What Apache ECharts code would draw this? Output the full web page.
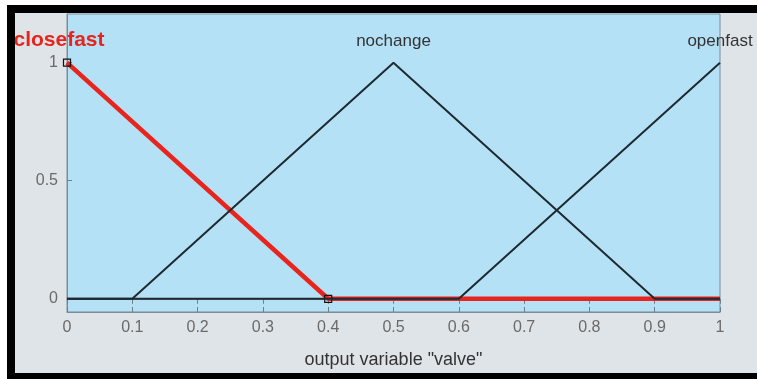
<!DOCTYPE html>
<html><head><meta charset="utf-8">
<script src="https://cdn.jsdelivr.net/npm/echarts@6/dist/echarts.min.js"></script>
<style>html,body{margin:0;padding:0;background:#fff}#c{width:757px;height:379px}</style>
</head><body><div id="c"></div>
<script>
const xTicks = [0,0.1,0.2,0.3,0.4,0.5,0.6,0.7,0.8,0.9,1];
const yTicks = [0,0.5,1];
const closefastX = [0, 0.4, 1];
const closefastY = [1, 0, 0];
const nochangeX = [0, 0.1, 0.5, 0.9, 1];
const nochangeY = [0, 0, 1, 0, 0];
const openfastX = [0, 0.6, 1];
const openfastY = [0, 0, 1];
const names = ['closefast', 'nochange', 'openfast'];
const axisTitle = 'output variable "valve"';

const chart = echarts.init(document.getElementById('c'), null, {renderer:'canvas'});
const font = 'Liberation Sans, Arial, sans-serif';
function pts(xs, ys){ return xs.map((x,i)=>[x, ys[i]]); }
function peakIdx(ys){ return ys.indexOf(Math.max(...ys)); }

const cf = pts(closefastX, closefastY).map((p,i)=>{
  const item = {value:p};
  if (i === closefastX.length-1) item.symbol = 'none';
  if (i === peakIdx(closefastY)) item.label = {show:true, formatter:names[0], position:'top', distance:8,
    offset:[-8,0], color:'#e8241c', fontWeight:'bold', fontSize:21, fontFamily:font};
  return item;
});
function blackSeries(xs, ys, name){
  return {type:'line', data: pts(xs,ys).map((p,i)=>{
    const item={value:p, symbol:'none'};
    if (i===peakIdx(ys)) {
      item.symbol='circle'; item.symbolSize=1;
      item.label={show:true, formatter:name, position:'top', distance:12,
        color:'#333', fontSize:17, fontFamily:font};
    }
    return item;
  }), symbol:'circle', symbolSize:1, showAllSymbol:true,
  itemStyle:{color:'rgba(0,0,0,0)', borderWidth:0},
  lineStyle:{color:'#1e2a30', width:2}, z:3, animation:false, silent:true};
}

chart.setOption({
  backgroundColor:'#dfe4e8',
  animation:false,
  graphic:[
    {type:'rect', shape:{x:0,y:0,width:757,height:5}, style:{fill:'#fff'}, z:-1},
    {type:'rect', shape:{x:0,y:0,width:7,height:379}, style:{fill:'#fff'}, z:-1},
    {type:'rect', shape:{x:7,y:5,width:750,height:8}, style:{fill:'#000'}, z:10},
    {type:'rect', shape:{x:7,y:5,width:8,height:374}, style:{fill:'#000'}, z:10},
    {type:'rect', shape:{x:7,y:373,width:750,height:6}, style:{fill:'#000'}, z:10}
  ],
  grid:{left:67, right:37, top:14, bottom:67, show:true, backgroundColor:'#b4e1f6', borderColor:'#7d8d97', borderWidth:1},
  xAxis:[{
    type:'value', min:0, max:1, interval:0.1, position:'bottom',
    name:axisTitle, nameLocation:'middle', nameGap:39,
    nameTextStyle:{color:'#333', fontSize:18, fontFamily:font},
    axisLine:{show:true, onZero:false, lineStyle:{color:'#7d8d97'}},
    axisTick:{show:true, inside:true, length:5, lineStyle:{color:'#6f7f8a'}},
    axisLabel:{color:'#6a6a6a', fontSize:16, margin:8, fontFamily:font,
      formatter:v=>String(Math.round(v*10)/10)},
    splitLine:{show:false}
  },{
    type:'value', min:0, max:1, interval:0.1, position:'top',
    axisLine:{show:true, lineStyle:{color:'#7d8d97'}},
    axisTick:{show:true, inside:true, length:5, lineStyle:{color:'#6f7f8a'}},
    axisLabel:{show:false}, splitLine:{show:false}
  }],
  yAxis:{
    type:'value', min:-0.056, max:1.206,
    axisLine:{show:true, onZero:false, lineStyle:{color:'#7d8d97'}},
    axisTick:{show:true, inside:true, length:5, customValues:yTicks, lineStyle:{color:'#6f7f8a'}},
    axisLabel:{color:'#6a6a6a', fontSize:16, margin:9, fontFamily:font, customValues:yTicks,
      formatter:v=>String(v)},
    splitLine:{show:false}
  },
  series:[
    {type:'line', data:cf, symbol:'rect', symbolSize:7, showAllSymbol:true,
      itemStyle:{color:'rgba(0,0,0,0)', borderColor:'#111', borderWidth:1.2},
      lineStyle:{color:'#e8241c', width:4.5}, z:2, silent:true},
    blackSeries(nochangeX, nochangeY, names[1]),
    blackSeries(openfastX, openfastY, names[2])
  ]
});
</script></body></html>
